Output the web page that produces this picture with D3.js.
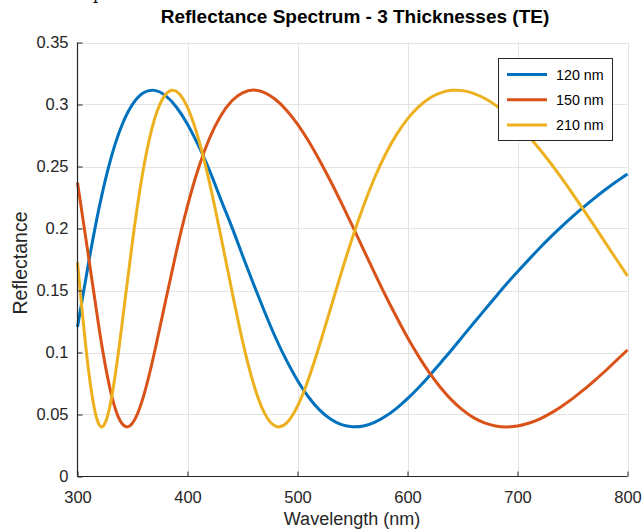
<!DOCTYPE html>
<html>
<head>
<meta charset="utf-8">
<script src="https://cdnjs.cloudflare.com/ajax/libs/d3/7.8.5/d3.min.js"></script>
<style>
  body { margin: 0; background: #fff; }
  svg { display: block; font-family: "Liberation Sans", Arial, sans-serif; }
</style>
</head>
<body>
<svg id="chart" width="643" height="532"></svg>
<script>
// wavelength samples (nm)
const wavelengths = [300, 310, 320, 330, 340, 350, 360, 370, 380, 390,
  400, 410, 420, 430, 440, 450, 460, 470, 480, 490,
  500, 510, 520, 530, 540, 550, 560, 570, 580, 590,
  600, 610, 620, 630, 640, 650, 660, 670, 680, 690,
  700, 710, 720, 730, 740, 750, 760, 770, 780, 790, 800];

// reflectance
const r120 = [0.1205, 0.1720, 0.2182, 0.2554, 0.2825, 0.3001, 0.3094, 0.3114, 0.3072, 0.2978,
  0.2841, 0.2668, 0.2469, 0.2241, 0.2019, 0.1783, 0.1552, 0.1331, 0.1121, 0.0936,
  0.0775, 0.0641, 0.0537, 0.0463, 0.0418, 0.0401, 0.0407, 0.0436, 0.0485, 0.0550,
  0.0628, 0.0716, 0.0813, 0.0916, 0.1020, 0.1128, 0.1236, 0.1342, 0.1448, 0.1552,
  0.1651, 0.1747, 0.1841, 0.1930, 0.2015, 0.2096, 0.2172, 0.2245, 0.2314, 0.2379, 0.2440];

const r150 = [0.2370, 0.1776, 0.1173, 0.0691, 0.0432, 0.0430, 0.0646, 0.1002, 0.1413, 0.1819,
  0.2182, 0.2488, 0.2728, 0.2906, 0.3026, 0.3094, 0.3116, 0.3096, 0.3040, 0.2954,
  0.2841, 0.2706, 0.2551, 0.2383, 0.2204, 0.2019, 0.1830, 0.1643, 0.1460, 0.1286,
  0.1121, 0.0971, 0.0835, 0.0718, 0.0618, 0.0537, 0.0475, 0.0433, 0.0408, 0.0400,
  0.0407, 0.0429, 0.0463, 0.0509, 0.0565, 0.0628, 0.0698, 0.0774, 0.0853, 0.0937, 0.1020];

const r210 = [0.1726, 0.0859, 0.0413, 0.0590, 0.1194, 0.1897, 0.2485, 0.2881, 0.3081, 0.3105,
  0.2977, 0.2722, 0.2370, 0.1952, 0.1513, 0.1094, 0.0748, 0.0511, 0.0406, 0.0430,
  0.0567, 0.0787, 0.1058, 0.1353, 0.1648, 0.1928, 0.2182, 0.2407, 0.2599, 0.2757,
  0.2884, 0.2981, 0.3051, 0.3094, 0.3114, 0.3112, 0.3090, 0.3050, 0.2995, 0.2924,
  0.2841, 0.2746, 0.2641, 0.2528, 0.2408, 0.2282, 0.2151, 0.2019, 0.1884, 0.1750, 0.1617];

const seriesNames = ['120 nm', '150 nm', '210 nm'];
const seriesColors = ['#0072BD', '#D95319', '#EDB120'];
const xTicks = [300, 400, 500, 600, 700, 800];
const yTicks = [0, 0.05, 0.1, 0.15, 0.2, 0.25, 0.3, 0.35];

const svg = d3.select('#chart');
const plotL = 77.5, plotR = 627.5, plotT = 42.5, plotB = 476.5;

const x = d3.scaleLinear().domain([300, 800]).range([plotL, plotR]);
const y = d3.scaleLinear().domain([0, 0.35]).range([plotB, plotT]);

// grid
const grid = svg.append('g').attr('stroke', '#e3e3e3').attr('stroke-width', 1);
grid.selectAll('.gx').data(xTicks.slice(1)).enter().append('line')
  .attr('x1', d => Math.round(x(d)) + 0.5).attr('x2', d => Math.round(x(d)) + 0.5)
  .attr('y1', plotT).attr('y2', plotB);
grid.selectAll('.gy').data(yTicks.slice(1)).enter().append('line')
  .attr('y1', d => Math.round(y(d)) + 0.5).attr('y2', d => Math.round(y(d)) + 0.5)
  .attr('x1', plotL).attr('x2', plotR);

// curves
const allSeries = [r120, r150, r210];
const line = d3.line()
  .x((d, i) => x(wavelengths[i]))
  .y(d => y(d))
  .curve(d3.curveNatural);

svg.append('g').selectAll('path').data(allSeries).enter().append('path')
  .attr('d', d => line(d))
  .attr('fill', 'none')
  .attr('stroke', (d, i) => seriesColors[i])
  .attr('stroke-width', 3)
  .attr('stroke-linejoin', 'round');

// axes (MATLAB style, inward ticks)
const xAxis = d3.axisBottom(x).tickValues(xTicks).tickSize(-5).tickPadding(15).tickFormat(d3.format('d'));
const yAxis = d3.axisLeft(y).tickValues(yTicks).tickSize(-5).tickPadding(9).tickFormat(d => d === 0 ? '0' : String(d));

const gx = svg.append('g').attr('transform', `translate(0,${plotB})`).call(xAxis);
const gy = svg.append('g').attr('transform', `translate(${plotL},0)`).call(yAxis);
[gx, gy].forEach(g => {
  g.select('.domain').attr('stroke', '#262626').attr('stroke-width', 1.2);
  g.selectAll('.tick line').attr('stroke', '#262626');
  g.selectAll('.tick text').attr('fill', '#262626').style('font-size', '16.5px')
    .style('font-family', '"Liberation Sans", Arial, sans-serif');
});
// drop the outer end caps of the domain path
gx.select('.domain').attr('d', `M${plotL},0H${plotR}`);
gy.select('.domain').attr('d', `M0,${plotB}V${plotT}`);

// labels
svg.append('text')
  .attr('x', 352).attr('y', 525)
  .attr('text-anchor', 'middle').attr('fill', '#262626')
  .style('font-size', '18px')
  .text('Wavelength (nm)');

svg.append('text')
  .attr('transform', `translate(27,263) rotate(-90)`)
  .attr('text-anchor', 'middle').attr('fill', '#262626')
  .style('font-size', '19.5px')
  .text('Reflectance');

svg.append('text')
  .attr('x', 355).attr('y', 23)
  .attr('text-anchor', 'middle').attr('fill', '#000')
  .style('font-size', '19px').style('font-weight', 'bold')
  .text('Reflectance Spectrum - 3 Thicknesses (TE)');

// stray glyph cut off at the top edge (as in the reference)
svg.append('text')
  .attr('x', 93).attr('y', -1)
  .style('font-family', '"DejaVu Serif", serif').style('font-size', '16px')
  .text('p');

// legend
const lg = svg.append('g');
lg.append('rect')
  .attr('x', 498.5).attr('y', 58.5).attr('width', 114).attr('height', 82)
  .attr('fill', '#fff').attr('stroke', '#262626').attr('stroke-width', 1);
const items = lg.selectAll('.item').data(seriesNames).enter().append('g')
  .attr('transform', (d, i) => `translate(0,${74.5 + i * 25.3})`);
items.append('line')
  .attr('x1', 507).attr('x2', 547).attr('y1', 0).attr('y2', 0)
  .attr('stroke', (d, i) => seriesColors[i]).attr('stroke-width', 3);
items.append('text')
  .attr('x', 556).attr('y', 5)
  .attr('fill', '#000').style('font-size', '14.3px')
  .text(d => d);
</script>
</body>
</html>
